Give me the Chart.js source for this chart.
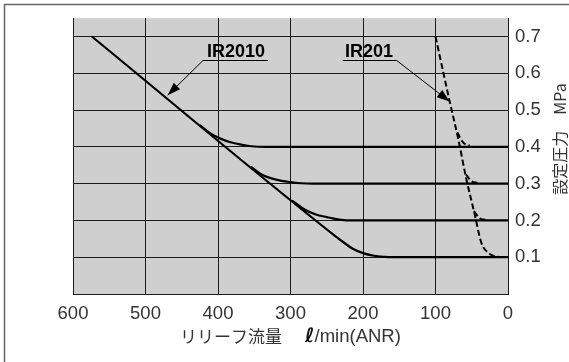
<!DOCTYPE html>
<html><head><meta charset="utf-8">
<script src="https://cdn.jsdelivr.net/npm/chart.js@4"></script>
<style>html,body{margin:0;padding:0;background:#fff}#wrap{width:569px;height:362px;position:relative}</style>
</head><body><div id="wrap"><canvas id="c" width="569" height="362"></canvas></div>
<script>
// ---- data ----
const xTicks = [600, 500, 400, 300, 200, 100, 0];
const yTicks = [0, 0.1, 0.2, 0.3, 0.4, 0.5, 0.6, 0.7];

// IR2010 main line (down to 0.1 MPa setting)
const ir2010MainX = [574, 240, 228, 214, 200, 185, 170, 160, 0];
const ir2010MainY = [0.70, 0.160, 0.142, 0.123, 0.111, 0.104, 0.101, 0.100, 0.100];
// IR2010 branch to 0.4 MPa
const ir2010_04X = [425, 410, 395, 380, 365, 350, 335, 0];
const ir2010_04Y = [0.459, 0.436, 0.421, 0.411, 0.405, 0.401, 0.400, 0.400];
// IR2010 branch to 0.3 MPa
const ir2010_03X = [355, 340, 320, 300, 285, 270, 0];
const ir2010_03Y = [0.346, 0.325, 0.311, 0.304, 0.301, 0.300, 0.300];
// IR2010 branch to 0.2 MPa
const ir2010_02X = [298, 280, 265, 250, 235, 220, 0];
const ir2010_02Y = [0.254, 0.229, 0.216, 0.209, 0.203, 0.200, 0.200];

// IR201 (dashed)
const ir201MainX = [100, 80.5, 69, 57.4, 46, 36.7, 25, 11];
const ir201MainY = [0.70, 0.524, 0.425, 0.312, 0.217, 0.139, 0.109, 0.100];
const ir201_04X = [70, 62, 53];
const ir201_04Y = [0.44, 0.412, 0.403];
const ir201_03X = [58, 50, 42];
const ir201_03Y = [0.325, 0.306, 0.302];
const ir201_02X = [47, 39, 31];
const ir201_02Y = [0.225, 0.206, 0.202];

const seriesNames = ['IR2010', 'IR201'];
const xTitleParts = ['リリーフ流量　', 'ℓ', '/min(ANR)'];
const yTitle = '設定圧力　MPa';

function pts(xs, ys) { return xs.map((x, i) => ({ x: x, y: ys[i] })); }

function solid(xs, ys) {
  return { data: pts(xs, ys), borderColor: '#000', borderWidth: 2.2, pointRadius: 0,
    cubicInterpolationMode: 'monotone', fill: false };
}
function dashed(xs, ys) {
  return { data: pts(xs, ys), borderColor: '#000', borderWidth: 2, pointRadius: 0,
    borderDash: [6, 3], cubicInterpolationMode: 'monotone', fill: false };
}

const tickFont = { family: '"Liberation Sans", Arial, sans-serif', size: 18.5 };

const decor = {
  id: 'decor',
  beforeDraw(chart) {
    const { ctx, chartArea: a } = chart;
    ctx.save();
    ctx.fillStyle = '#fff';
    ctx.fillRect(0, 0, chart.width, chart.height);
    ctx.fillStyle = '#cfcfcf';
    ctx.fillRect(a.left, a.top, a.right - a.left, a.bottom - a.top);
    ctx.restore();
  },
  afterDraw(chart) {
    const { ctx, chartArea: a } = chart;
    const xs = chart.scales.x, ys = chart.scales.y;
    ctx.save();
    // outer frame (left + top)
    ctx.strokeStyle = '#666';
    ctx.lineWidth = 1.5;
    ctx.beginPath();
    ctx.moveTo(4.5, chart.height);
    ctx.lineTo(4.5, 4.5);
    ctx.lineTo(chart.width, 4.5);
    ctx.stroke();

    // x title
    ctx.fillStyle = '#333';
    ctx.textBaseline = 'middle';
    const f1 = '17px "Noto Sans CJK JP", sans-serif';
    const f2 = 'italic bold 20px "DejaVu Sans", sans-serif';
    const f3 = '18.5px "Liberation Sans", Arial, sans-serif';
    ctx.font = f1; const w1 = ctx.measureText(xTitleParts[0]).width;
    ctx.font = f2; const w2 = ctx.measureText(xTitleParts[1]).width;
    ctx.font = f3; const w3 = ctx.measureText(xTitleParts[2]).width;
    let x0 = (a.left + a.right) / 2 - (w1 + w2 + w3 + 6) / 2;
    const ty = 337;
    ctx.textAlign = 'left';
    ctx.font = f1; ctx.fillText(xTitleParts[0], x0, ty); x0 += w1 + 6;
    ctx.fillStyle = '#111';
    ctx.font = f2; ctx.fillText(xTitleParts[1], x0, ty); x0 += w2;
    ctx.fillStyle = '#333';
    ctx.font = f3; ctx.fillText(xTitleParts[2], x0, ty);

    // y title (rotated, reads bottom to top)
    ctx.save();
    ctx.translate(560, 139);
    ctx.rotate(-Math.PI / 2);
    ctx.textAlign = 'center';
    ctx.font = '16px "Noto Sans CJK JP", sans-serif';
    ctx.fillText(yTitle, 0, 0);
    ctx.restore();

    // annotations
    function label(text, tx, ty2, ux0, ux1, uy, tipX, tipY, fromRight) {
      ctx.fillStyle = '#000';
      ctx.font = 'bold 18px "Liberation Sans", Arial, sans-serif';
      ctx.textAlign = 'left';
      ctx.textBaseline = 'alphabetic';
      ctx.fillText(text, xs.getPixelForValue(tx), ys.getPixelForValue(ty2));
      const py = Math.round(ys.getPixelForValue(uy)) + 0.5;
      const p0 = xs.getPixelForValue(ux0), p1 = xs.getPixelForValue(ux1);
      ctx.strokeStyle = '#000';
      ctx.lineWidth = 1;
      ctx.beginPath(); ctx.moveTo(p0, py); ctx.lineTo(p1, py); ctx.stroke();
      const sx = fromRight ? p1 : p0;
      const ex = xs.getPixelForValue(tipX), ey = ys.getPixelForValue(tipY);
      ctx.beginPath(); ctx.moveTo(sx, py); ctx.lineTo(ex, ey); ctx.stroke();
      const ang = Math.atan2(ey - py, ex - sx);
      const L = 13, W = 4.5;
      ctx.beginPath();
      ctx.moveTo(ex, ey);
      ctx.lineTo(ex - L * Math.cos(ang) + W * Math.sin(ang), ey - L * Math.sin(ang) - W * Math.cos(ang));
      ctx.lineTo(ex - L * Math.cos(ang) - W * Math.sin(ang), ey - L * Math.sin(ang) + W * Math.cos(ang));
      ctx.closePath();
      ctx.fillStyle = '#000';
      ctx.fill();
    }
    label(seriesNames[0], 415.2, 0.643, 420.7, 331, 0.637, 469.4, 0.5405, false);
    label(seriesNames[1], 224.8, 0.643, 228, 153.5, 0.637, 80.4, 0.523, true);
    ctx.restore();
  }
};

new Chart(document.getElementById('c'), {
  type: 'line',
  data: {
    datasets: [
      solid(ir2010MainX, ir2010MainY),
      solid(ir2010_04X, ir2010_04Y),
      solid(ir2010_03X, ir2010_03Y),
      solid(ir2010_02X, ir2010_02Y),
      dashed(ir201MainX, ir201MainY),
      dashed(ir201_04X, ir201_04Y),
      dashed(ir201_03X, ir201_03Y),
      dashed(ir201_02X, ir201_02Y)
    ]
  },
  options: {
    responsive: false,
    animation: false,
    devicePixelRatio: 1,
    layout: { padding: { left: 73, top: 4, right: 0, bottom: 0 } },
    plugins: { legend: { display: false }, tooltip: { enabled: false }, title: { display: false } },
    scales: {
      x: {
        type: 'linear', reverse: true, min: 0, max: 600,
        afterBuildTicks: s => { s.ticks = xTicks.map(v => ({ value: v })); },
        afterFit: s => { s.height = 68; },
        grid: { color: '#1a1a1a', lineWidth: 1, drawTicks: false },
        border: { display: true, color: '#1a1a1a', width: 1 },
        ticks: { font: tickFont, color: '#333', padding: 9, maxRotation: 0, autoSkip: false,
          callback: v => String(v) }
      },
      y: {
        type: 'linear', position: 'right', min: 0, max: 0.75,
        afterBuildTicks: s => { s.ticks = yTicks.map(v => ({ value: v })); },
        afterFit: s => { s.width = 61; },
        grid: { color: '#1a1a1a', lineWidth: 1, drawTicks: false },
        border: { display: true, color: '#1a1a1a', width: 1 },
        ticks: { font: tickFont, color: '#333', padding: 7, autoSkip: false,
          callback: v => v === 0 ? '' : v.toFixed(1) }
      }
    }
  },
  plugins: [decor]
});
</script>
</body></html>
